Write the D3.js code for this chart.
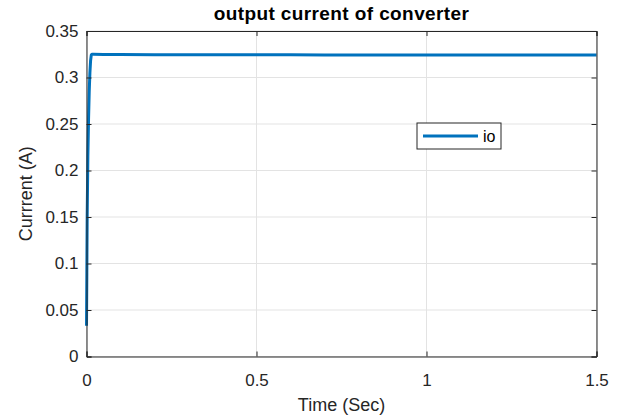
<!DOCTYPE html>
<html>
<head>
<meta charset="utf-8">
<script src="https://cdn.jsdelivr.net/npm/d3@7"></script>
<style>
  body { margin: 0; background: #fff; }
  svg { display: block; font-family: "Liberation Sans", Arial, Helvetica, sans-serif; }
</style>
</head>
<body>
<svg id="chart" width="621" height="420"></svg>
<script>
// data
const timeSec = [0, 0.001, 0.002, 0.004, 0.006, 0.008, 0.010, 0.012, 0.014, 0.016, 0.02, 0.05, 0.1, 0.2, 0.3, 0.4, 0.5, 0.6, 0.7, 0.8, 0.9, 1.0, 1.1, 1.2, 1.3, 1.4, 1.5];
const currentA = [0.033, 0.09, 0.15, 0.215, 0.255, 0.285, 0.305, 0.318, 0.324, 0.325, 0.325, 0.3248, 0.3246, 0.3245, 0.3245, 0.3244, 0.3244, 0.3244, 0.3243, 0.3243, 0.3243, 0.3243, 0.3242, 0.3242, 0.3242, 0.3242, 0.3242];
const xTicks = [0, 0.5, 1, 1.5];
const yTicks = [0, 0.05, 0.1, 0.15, 0.2, 0.25, 0.3, 0.35];
const seriesName = "io";

const svg = d3.select("#chart");
const mLeft = 86.5, mRight = 596.5, mTop = 31, mBottom = 356.5;

const x = d3.scaleLinear().domain([0, 1.5]).range([mLeft, mRight]);
const y = d3.scaleLinear().domain([0, 0.35]).range([mBottom, mTop]);

// grid
const grid = svg.append("g").attr("stroke", "#e3e3e3").attr("stroke-width", 1);
xTicks.forEach(t => {
    grid.append("line").attr("x1", x(t)).attr("x2", x(t)).attr("y1", mTop).attr("y2", mBottom);
});
yTicks.forEach(t => {
    grid.append("line").attr("x1", mLeft).attr("x2", mRight).attr("y1", y(t)).attr("y2", y(t));
});

// series
const line = d3.line().x((d, i) => x(timeSec[i])).y(d => y(d));
svg.append("path")
    .datum(currentA)
    .attr("fill", "none")
    .attr("stroke", "#0072bd")
    .attr("stroke-width", 3)
    .attr("stroke-linejoin", "round")
    .attr("d", line);

// axes (inward ticks, box on)
const xAxis = d3.axisBottom(x).tickValues(xTicks).tickSize(-5).tickPadding(17).tickFormat(d3.format("~g"));
const yAxis = d3.axisLeft(y).tickValues(yTicks).tickSize(-5).tickPadding(8).tickFormat(d3.format("~g"));

const gx = svg.append("g").attr("transform", `translate(0,${mBottom})`).call(xAxis);
const gy = svg.append("g").attr("transform", `translate(${mLeft},0)`).call(yAxis);
const gx2 = svg.append("g").attr("transform", `translate(0,${mTop})`).call(d3.axisTop(x).tickValues(xTicks).tickSize(-5).tickFormat(""));
const gy2 = svg.append("g").attr("transform", `translate(${mRight},0)`).call(d3.axisRight(y).tickValues(yTicks).tickSize(-5).tickFormat(""));

[gx, gy, gx2, gy2].forEach(g => {
    g.select(".domain").attr("stroke", "#262626").attr("stroke-width", 1);
    g.selectAll(".tick line").attr("stroke", "#262626");
    g.selectAll(".tick text").attr("fill", "#262626").attr("font-size", "17px")
        .attr("font-family", "'Liberation Sans', Arial, sans-serif");
});

// title and labels
svg.append("text")
    .attr("x", (mLeft + mRight) / 2).attr("y", 20)
    .attr("text-anchor", "middle")
    .attr("font-size", "19px").attr("font-weight", "bold").attr("fill", "#000")
    .attr("letter-spacing", "0.4px")
    .text("output current of converter");

svg.append("text")
    .attr("x", (mLeft + mRight) / 2).attr("y", 411)
    .attr("text-anchor", "middle")
    .attr("font-size", "18px").attr("fill", "#262626")
    .text("Time (Sec)");

svg.append("text")
    .attr("transform", `translate(32,${(mTop + mBottom) / 2}) rotate(-90)`)
    .attr("text-anchor", "middle")
    .attr("font-size", "18px").attr("fill", "#262626")
    .text("Currrent (A)");

// legend
const lg = svg.append("g").attr("transform", "translate(417,123)");
lg.append("rect").attr("width", 84).attr("height", 26)
    .attr("fill", "#fff").attr("stroke", "#262626").attr("stroke-width", 1);
lg.append("line").attr("x1", 6).attr("x2", 61).attr("y1", 13).attr("y2", 13)
    .attr("stroke", "#0072bd").attr("stroke-width", 3);
lg.append("text").attr("x", 66).attr("y", 19)
    .attr("font-size", "16px").attr("fill", "#000").text(seriesName);
</script>
</body>
</html>
